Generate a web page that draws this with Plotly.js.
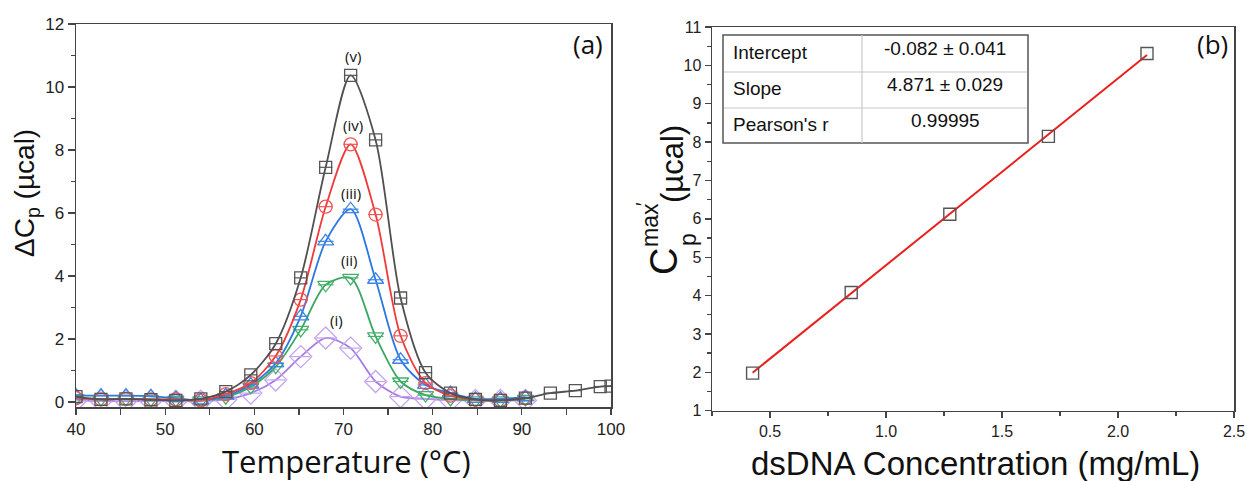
<!DOCTYPE html>
<html>
<head>
<meta charset="utf-8">
<script src="https://cdn.plot.ly/plotly-3.0.1.min.js"></script>
<style>html,body{margin:0;padding:0;background:#fff;}#chart{width:1247px;height:481px;}</style>
</head>
<body>
<div id="chart"></div>
<script>
// ---------- Data: panel (a) ----------
const temps = [40, 42.8, 45.6, 48.4, 51.2, 54.0, 56.8, 59.6, 62.4, 65.2, 68.0, 70.8, 73.6, 76.4, 79.2, 82.0, 84.8, 87.6, 90.4];
const tempsExt = [93.2, 96.0, 98.8, 100];
const seriesV   = [0.17, 0.08, 0.10, 0.07, 0.05, 0.10, 0.33, 0.86, 1.85, 3.94, 7.45, 10.37, 8.32, 3.30, 0.93, 0.28, 0.08, 0.05, 0.12, 0.28, 0.36, 0.49, 0.50];
const seriesIV  = [0.12, 0.08, 0.10, 0.08, 0.08, 0.05, 0.25, 0.60, 1.46, 3.25, 6.20, 8.18, 5.95, 2.10, 0.60, 0.20, 0.07, 0.05, 0.12];
const seriesIII = [0.20, 0.20, 0.20, 0.18, 0.12, 0.05, 0.20, 0.55, 1.23, 2.72, 5.10, 6.12, 3.88, 1.34, 0.54, 0.28, 0.10, 0.10, 0.15];
const seriesII  = [0.12, 0.10, 0.10, 0.08, 0.07, 0.05, 0.15, 0.48, 1.12, 2.29, 3.72, 3.94, 2.08, 0.65, 0.22, 0.10, 0.05, 0.05, 0.10];
const seriesI   = [0.05, 0.03, 0.03, 0.03, 0.02, 0.02, 0.08, 0.28, 0.70, 1.44, 2.03, 1.71, 0.65, 0.17, 0.10, 0.05, 0.05, 0.05, 0.05];
const curveLabels = ['(v)', '(iv)', '(iii)', '(ii)', '(i)'];

// ---------- Data: panel (b) ----------
const concentration = [0.425, 0.85, 1.275, 1.70, 2.125];
const cpMax = [1.98, 4.08, 6.12, 8.15, 10.31];
const fitX = [0.425, 2.125];
const fitY = [1.99, 10.27];
const tableLabels = ['Intercept', 'Slope', "Pearson's r"];
const tableValues = ['-0.082 \u00b1 0.041', '4.871 \u00b1 0.029', '0.99995'];

// ---------- helpers ----------
const W = 1247, H = 481;
const px = x => x / W;
const py = y => 1 - y / H;

const styles = [
  {name:'v',   x: temps.concat(tempsExt), y: seriesV,   line:'#505050', mk:'#555555', sym:'square-open',        size:12},
  {name:'iv',  x: temps, y: seriesIV,  line:'#f03a3a', mk:'#f05555', sym:'circle-open',        size:13},
  {name:'iii', x: temps, y: seriesIII, line:'#2a78e0', mk:'#3a85e8', sym:'triangle-up-open',   size:14},
  {name:'ii',  x: temps, y: seriesII,  line:'#3aa860', mk:'#45b06a', sym:'triangle-down-open', size:14},
  {name:'i',   x: temps, y: seriesI,   line:'#a57be3', mk:'#c3a4ef', sym:'diamond-open',       size:17}
];

const traces = [];
styles.slice().reverse().forEach(s => {
  traces.push({
    x: s.x, y: s.y, xaxis:'x', yaxis:'y', type:'scatter', mode:'lines+markers',
    line:{color:s.line, width:1.8, shape:'spline', smoothing:0.8},
    marker:{symbol:s.sym, size:s.size, color:s.mk, line:{width:1.3, color:s.mk}},
    hoverinfo:'skip'
  });
  traces.push({
    x: s.x, y: s.y, xaxis:'x', yaxis:'y', type:'scatter', mode:'markers',
    marker:{symbol:'line-ew-open', size:s.size*0.8, color:s.mk, line:{width:1.2, color:s.mk}},
    hoverinfo:'skip'
  });
});

traces.push({
  x: fitX, y: fitY, xaxis:'x2', yaxis:'y2', type:'scatter', mode:'lines',
  line:{color:'#e8201e', width:2}, hoverinfo:'skip'
});
traces.push({
  x: concentration, y: cpMax, xaxis:'x2', yaxis:'y2', type:'scatter', mode:'markers',
  marker:{symbol:'square-open', size:12, color:'#555555', line:{width:1.4, color:'#555555'}},
  hoverinfo:'skip'
});

const tickFontA = {family:'Liberation Sans, Arial, sans-serif', size:17, color:'#222'};
const tickFontB = {family:'Liberation Sans, Arial, sans-serif', size:16, color:'#222'};
const axisCommon = {showline:true, linecolor:'#444', linewidth:1.5, mirror:true, showgrid:false, zeroline:false,
  ticks:'outside', tickcolor:'#444', tickwidth:1.3};

const layout = {
  width: W, height: H, margin:{l:0, r:0, t:0, b:0},
  paper_bgcolor:'#fff', plot_bgcolor:'#fff', showlegend:false,
  xaxis: Object.assign({}, axisCommon, {domain:[px(76), px(611)], range:[40, 100], tick0:40, dtick:10, ticklen:6,
    tickfont:tickFontA, anchor:'y',
    minor:{dtick:5, ticks:'outside', ticklen:6, tickcolor:'#444', tickwidth:1.3, showgrid:false}}),
  yaxis: Object.assign({}, axisCommon, {domain:[py(407), py(24)], range:[-0.16, 12], tick0:0, dtick:2, ticklen:7,
    tickfont:tickFontA, anchor:'x',
    minor:{dtick:1, ticks:'outside', ticklen:4, tickcolor:'#444', tickwidth:1.3, showgrid:false}}),
  xaxis2: Object.assign({}, axisCommon, {domain:[px(712), px(1234)], range:[0.25, 2.5], tick0:0.5, dtick:0.5, ticklen:6,
    tickformat:'.1f', tickfont:tickFontB, anchor:'y2',
    minor:{dtick:0.25, ticks:'outside', ticklen:4, tickcolor:'#444', tickwidth:1.3, showgrid:false}}),
  yaxis2: Object.assign({}, axisCommon, {domain:[py(410.7), py(27)], range:[1, 11], tick0:1, dtick:1, ticklen:6,
    tickfont:tickFontB, anchor:'x2',
    minor:{dtick:0.5, ticks:'outside', ticklen:4, tickcolor:'#444', tickwidth:1.3, showgrid:false}}),
  shapes: [],
  annotations: []
};

// curve labels (panel a)
const labelPos = [[71.05, 10.98], [71.05, 8.78], [70.8, 6.62], [70.6, 4.52], [69.2, 2.61]];
curveLabels.forEach((t, i) => {
  layout.annotations.push({text:t, x:labelPos[i][0], y:labelPos[i][1], xref:'x', yref:'y', showarrow:false,
    font:{family:'Open Sans, sans-serif', size:15, color:'#111'}});
});

const annoFont = (size, fam) => ({family: fam || 'Liberation Sans, Arial, sans-serif', size:size, color:'#111'});
function addText(text, x, y, size, opts) {
  layout.annotations.push(Object.assign({text:text, x:px(x), y:py(y), xref:'paper', yref:'paper', showarrow:false,
    xanchor:'center', yanchor:'middle', font:annoFont(size)}, opts || {}));
}

// panel letters
addText('(a)', 588, 44, 26, {font:annoFont(26, 'Open Sans, sans-serif')});
addText('(b)', 1212, 44, 26, {font:annoFont(26, 'Open Sans, sans-serif')});

// axis titles panel a
addText('\u0394C<sub>p</sub> (\u00b5cal)', 27, 193, 28, {textangle:-90});
addText('Temperature (\u00b0C)', 346, 461, 31, {font:annoFont(31, 'Open Sans, sans-serif')});

// axis titles panel b
addText('dsDNA Concentration (mg/mL)', 975, 463, 33);
addText('C', 664, 262, 38, {textangle:-90});
addText('max', 650, 225, 23, {textangle:-90});
addText('p', 688, 240, 23, {textangle:-90});
addText('\u2032', 643, 204, 20, {textangle:-90});
addText('(\u00b5cal)', 672, 164, 31, {textangle:-90});

// table in panel b
const tL = 723, tR = 1028, tT = 35, tB = 143, tMid = 862;
const rowLines = [72, 108];
layout.shapes.push({type:'rect', xref:'paper', yref:'paper', x0:px(tL), x1:px(tR), y0:py(tB), y1:py(tT),
  line:{color:'#555', width:1.5}, fillcolor:'rgba(255,255,255,1)', layer:'above'});
layout.shapes.push({type:'line', xref:'paper', yref:'paper', x0:px(tMid), x1:px(tMid), y0:py(tB), y1:py(tT),
  line:{color:'#c8c8c8', width:1.2}, layer:'above'});
rowLines.forEach(r => layout.shapes.push({type:'line', xref:'paper', yref:'paper', x0:px(tL+1), x1:px(tR-1), y0:py(r), y1:py(r),
  line:{color:'#c8c8c8', width:1.2}, layer:'above'}));
const rowCenters = [53, 89, 125];
tableLabels.forEach((t, i) => addText(t, 731, rowCenters[i], 19, {xanchor:'left'}));
tableValues.forEach((t, i) => addText(t, 945, rowCenters[i] - 4, 19));

Plotly.newPlot('chart', traces, layout, {staticPlot:true, displayModeBar:false});
</script>
</body>
</html>
